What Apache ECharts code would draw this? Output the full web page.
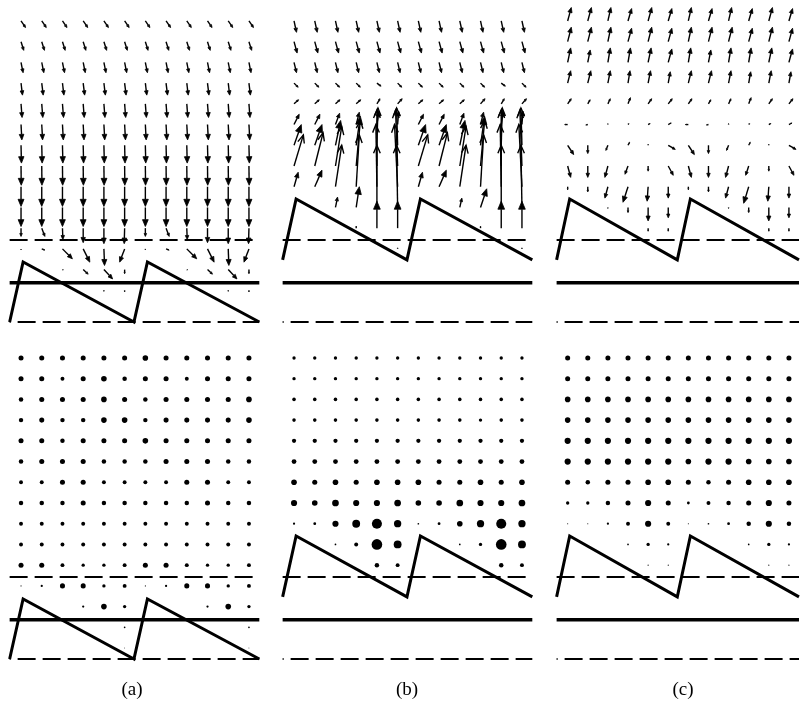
<!DOCTYPE html>
<html><head><meta charset="utf-8">
<script src="https://cdn.jsdelivr.net/npm/echarts@6/dist/echarts.min.js"></script>
<style>html,body{margin:0;padding:0;background:#fff}#c{width:801px;height:704px}</style>
</head><body><div id="c"></div>
<script>
// measurement lattice: columns (x) and rows (y), rows listed top -> bottom
const colX = [0,1,2,3,4,5,6,7,8,9,10,11];
const rowY = [14,13,12,11,10,9,8,7,6,5,4,3,2,1,0];

// bed profile (sawtooth ripples)
const bedX = [-0.55, 0.1, 5.45, 6.1, 11.5];
const bedYa = [-0.53, 2.37, -0.53, 2.37, -0.53];
const bedYbc = [2.47, 5.41, 2.47, 5.41, 2.47];
// reference levels
const levelX = [-0.55, 11.5];
const solidLevel = 1.36;
const dashUpperLevel = 3.43;
const dashLowerLevel = -0.53;
const panelLabels = ['(a)', '(b)', '(c)'];

// ---- velocity vectors (u, v) per lattice point, rows top -> bottom ----
const aU = [
 [0.22,0.22,0.22,0.22,0.22,0.22,0.22,0.22,0.22,0.22,0.22,0.22],
 [0.13,0.13,0.13,0.13,0.13,0.13,0.13,0.13,0.13,0.13,0.13,0.13],
 [0.1,0.1,0.1,0.1,0.1,0.1,0.1,0.1,0.1,0.1,0.1,0.1],
 [0.07,0.07,0.07,0.07,0.07,0.07,0.07,0.07,0.07,0.07,0.07,0.07],
 [0.05,0.05,0.05,0.05,0.05,0.05,0.05,0.05,0.05,0.05,0.05,0.05],
 [0.04,0.04,0.04,0.04,0.04,0.04,0.04,0.04,0.04,0.04,0.04,0.04],
 [0.02,0.02,0.02,0.02,0.02,0.02,0.02,0.02,0.02,0.02,0.02,0.02],
 [0.01,0.01,0.01,0.01,0.01,0.01,0.01,0.01,0.01,0.01,0.01,0.01],
 [0,0,0,0,0,0,0,0,0,0,0,0],
 [0,0,0,0,0,0,0,0,0,0,0,0],
 [0,0.15,0.02,0,0,-0.02,0,0.15,0.02,0,0,-0.02],
 [0,0.15,0.48,0.32,0.03,-0.24,0,0.15,0.48,0.32,0.03,-0.24],
 [0,0,0.04,0.24,0.42,0,0,0,0.04,0.24,0.42,0],
 [0,0,0,0,0,0,0,0,0,0,0,0],
 [0,0,0,0,0,0,0,0,0,0,0,0]
];
const aV = [
 [-0.32,-0.32,-0.32,-0.32,-0.32,-0.32,-0.32,-0.32,-0.32,-0.32,-0.32,-0.32],
 [-0.42,-0.42,-0.42,-0.42,-0.42,-0.42,-0.42,-0.42,-0.42,-0.42,-0.42,-0.42],
 [-0.5,-0.5,-0.5,-0.5,-0.5,-0.5,-0.5,-0.5,-0.5,-0.5,-0.5,-0.5],
 [-0.58,-0.58,-0.58,-0.58,-0.58,-0.58,-0.58,-0.58,-0.58,-0.58,-0.58,-0.58],
 [-0.66,-0.66,-0.66,-0.66,-0.66,-0.66,-0.66,-0.66,-0.66,-0.66,-0.66,-0.66],
 [-0.74,-0.74,-0.74,-0.74,-0.74,-0.74,-0.74,-0.74,-0.74,-0.74,-0.74,-0.74],
 [-0.86,-0.86,-0.86,-0.86,-0.86,-0.86,-0.86,-0.86,-0.86,-0.86,-0.86,-0.86],
 [-0.93,-0.93,-0.93,-0.93,-0.93,-0.93,-0.93,-0.93,-0.93,-0.93,-0.93,-0.93],
 [-0.95,-0.95,-0.95,-0.95,-0.95,-0.95,-0.95,-0.95,-0.95,-0.95,-0.95,-0.95],
 [-0.92,-0.92,-0.92,-0.92,-0.92,-0.92,-0.92,-0.92,-0.92,-0.92,-0.92,-0.92],
 [-0.4,-0.4,-0.55,-0.7,-0.75,-0.75,-0.4,-0.4,-0.55,-0.7,-0.75,-0.75],
 [-0.05,-0.06,-0.48,-0.64,-0.8,-0.64,-0.05,-0.06,-0.48,-0.64,-0.8,-0.64],
 [0,0,-0.02,-0.22,-0.45,-0.2,0,0,-0.02,-0.22,-0.45,-0.2],
 [0,0,0,0,-0.05,-0.08,0,0,0,0,-0.05,-0.08],
 [0,0,0,0,0,0,0,0,0,0,0,0]
];
const bU = [
 [0.12,0.12,0.12,0.12,0.12,0.12,0.12,0.12,0.12,0.12,0.12,0.12],
 [0.15,0.15,0.15,0.15,0.15,0.15,0.15,0.15,0.15,0.15,0.15,0.15],
 [0.12,0.12,0.12,0.12,0.12,0.12,0.12,0.12,0.12,0.12,0.12,0.12],
 [0.2,0.2,0.2,0.2,0.2,0.2,0.2,0.2,0.2,0.2,0.2,0.2],
 [0.22,0.22,0.22,0.22,0.15,0.22,0.22,0.22,0.22,0.22,0.15,0.22],
 [0.25,0.25,0.2,0.15,0.1,0.05,0.25,0.25,0.2,0.15,0.1,0.05],
 [0.35,0.35,0.25,0.2,0.05,-0.05,0.35,0.35,0.25,0.2,0.05,-0.05],
 [0.45,0.4,0.3,0.2,0,-0.1,0.45,0.4,0.3,0.2,0,-0.1],
 [0.2,0.35,0.3,0.15,-0.05,-0.15,0.2,0.35,0.3,0.15,-0.05,-0.15],
 [0,0,0.1,0.15,0,-0.05,0,0,0.1,0.3,0,-0.05],
 [0,0,0,0,0,0,0,0,0,0,0,0],
 [0,0,0,0,0,0,0,0,0,0,0,0],
 [0,0,0,0,0,0,0,0,0,0,0,0],
 [0,0,0,0,0,0,0,0,0,0,0,0],
 [0,0,0,0,0,0,0,0,0,0,0,0]
];
const bV = [
 [-0.55,-0.55,-0.55,-0.55,-0.55,-0.55,-0.55,-0.55,-0.55,-0.55,-0.55,-0.55],
 [-0.55,-0.55,-0.55,-0.55,-0.55,-0.55,-0.55,-0.55,-0.55,-0.55,-0.55,-0.55],
 [-0.5,-0.5,-0.5,-0.5,-0.5,-0.5,-0.5,-0.5,-0.5,-0.5,-0.5,-0.5],
 [-0.2,-0.2,-0.2,-0.2,-0.15,-0.2,-0.2,-0.2,-0.2,-0.2,-0.15,-0.2],
 [0.2,0.2,0.2,0.2,0.25,0.25,0.2,0.2,0.2,0.25,0.25,0.25],
 [0.5,0.5,0.55,0.6,0.65,0.65,0.5,0.5,0.55,0.6,0.65,0.65],
 [1.0,1.0,1.2,1.4,1.8,1.8,1.0,1.0,1.2,1.4,1.8,1.8],
 [1.5,1.6,1.9,2.2,2.7,2.7,1.5,1.6,1.9,2.2,2.7,2.7],
 [0.7,0.8,2.0,2.5,3.0,3.0,0.7,0.8,2.0,2.5,3.0,3.0],
 [0,0,0.5,1.0,3.0,3.0,0,0,0.45,0.9,3.0,3.0],
 [0,0,0,0.1,1.3,1.3,0,0,0,0.1,1.3,1.3],
 [0,0,0,0,0,0.05,0,0,0,0,0,0.05],
 [0,0,0,0,0,0,0,0,0,0,0,0],
 [0,0,0,0,0,0,0,0,0,0,0,0],
 [0,0,0,0,0,0,0,0,0,0,0,0]
];
const cU = [
 [0.18,0.18,0.15,0.18,0.18,0.18,0.15,0.18,0.15,0.18,0.18,0.18],
 [0.18,0.18,0.15,0.18,0.18,0.18,0.15,0.18,0.18,0.18,0.18,0.18],
 [0.15,0.12,0.12,0.12,0.15,0.18,0.12,0.12,0.12,0.12,0.15,0.18],
 [0.15,0.15,0.12,0.1,0.12,0.1,0.15,0.15,0.12,0.1,0.12,0.1],
 [0.18,0.12,0.12,0.12,0.18,0.2,0.18,0.12,0.12,0.12,0.18,0.2],
 [-0.15,-0.1,0,0.05,0.1,0.15,-0.15,-0.1,0,0.05,0.1,0.15],
 [0.3,0,-0.1,0.08,0,0.35,0.3,0,-0.1,0.08,0,0.35],
 [0.15,0,-0.15,-0.15,0,0.25,0.15,0,-0.15,-0.15,0,0.25],
 [0,0,-0.15,-0.25,-0.05,0,0,0,-0.15,-0.25,-0.05,0],
 [0,0,0,0,0,0,0,0,0,0,0,0],
 [0,0,0,0,0,0,0,0,0,0,0,0],
 [0,0,0,0,0,0,0,0,0,0,0,0],
 [0,0,0,0,0,0,0,0,0,0,0,0],
 [0,0,0,0,0,0,0,0,0,0,0,0],
 [0,0,0,0,0,0,0,0,0,0,0,0]
];
const cV = [
 [0.65,0.65,0.65,0.6,0.65,0.6,0.65,0.6,0.65,0.6,0.65,0.6],
 [0.7,0.7,0.7,0.65,0.7,0.65,0.7,0.7,0.7,0.65,0.7,0.65],
 [0.7,0.6,0.7,0.7,0.7,0.65,0.7,0.6,0.7,0.7,0.7,0.65],
 [0.6,0.6,0.6,0.6,0.6,0.55,0.6,0.6,0.6,0.55,0.6,0.55],
 [0.25,0.2,0.25,0.3,0.25,0.25,0.25,0.2,0.25,0.3,0.25,0.25],
 [0,-0.02,0.05,0.05,0.05,0.08,0,-0.02,0.05,0.05,0.05,0.08],
 [-0.45,-0.4,-0.25,0.15,0.05,-0.2,-0.45,-0.4,-0.25,0.15,0.05,-0.2],
 [-0.55,-0.55,-0.55,-0.4,-0.25,-0.45,-0.55,-0.55,-0.55,-0.45,-0.25,-0.45],
 [-0.15,-0.25,-0.55,-0.75,-0.7,-0.55,-0.15,-0.25,-0.55,-0.8,-0.7,-0.55],
 [0,0,-0.05,-0.25,-0.65,-0.5,0,0,-0.05,-0.25,-0.65,-0.5],
 [0,0,0,0,-0.15,-0.15,0,0,0,0,-0.15,-0.15],
 [0,0,0,0,0,0,0,0,0,0,0,0],
 [0,0,0,0,0,0,0,0,0,0,0,0],
 [0,0,0,0,0,0,0,0,0,0,0,0],
 [0,0,0,0,0,0,0,0,0,0,0,0]
];

// ---- scalar magnitude per lattice point (dot panels), rows top -> bottom ----
const aDots = [
 [4.5,4.5,4.5,4.5,4.5,4.5,5,4.5,4.5,4.5,4.5,4.5],
 [4.5,4.5,3.5,4.5,5,4,4.5,4.5,3.5,4.5,4.5,4.5],
 [4,4.5,4.5,4.5,5,4.5,4,4.5,4.5,4.5,4.5,5],
 [4,4.5,4,4,5,5,4,4.5,4.5,4.5,4.5,5],
 [4.5,4.5,4,4.5,4.5,4.5,5,4.5,4.5,4.5,4.5,4.5],
 [4,4.5,4.5,4.5,4,4,4,4.5,4.5,4.5,4,4],
 [3.5,3.5,4.5,4.5,3.5,3.5,3.5,3.5,4.5,4.5,3.5,3.5],
 [4,4,4,4.5,4,4,4,4,4,4.5,4,4],
 [3.5,3.5,3.5,3.5,3.5,3.5,3.5,3.5,3.5,3.5,3.5,3.5],
 [3.5,3.5,3.5,3.5,3.5,3.5,3.5,3.5,3.5,3.5,3.5,3.5],
 [4.5,4.5,3.5,3,3,3.5,4.5,4.5,3.5,3,3,3.5],
 [1,2,4.5,4.5,3,3.5,1,2,4.5,4.5,3,3.5],
 [0,0,0,2,5,3,0,0,0,2,5,3],
 [0,0,0,0,0,1.5,0,0,0,0,0,1.5],
 [0,0,0,0,0,0.8,0,0,0,0,0,0.8]
];
const bDots = [
 [3,3,3,3,3,3,3,3,3,3,3,3],
 [3,3,3,3,3,3,3,3,3,3,3,3],
 [3.2,3.2,3.2,3.2,3.2,3.2,3.2,3.2,3.2,3.2,3.2,3.2],
 [3.2,3.2,3.2,3.2,3.2,3.2,3.2,3.2,3.2,3,3.2,3.2],
 [3.8,3.8,3.8,3.8,3.8,3.8,3.8,3.8,3.8,3.8,3.8,3.8],
 [4.3,4.3,4.3,4.3,4.3,4.3,4.3,4.3,4.3,4.3,4.3,4.3],
 [5,4.5,5,4.5,5,5,5,4.5,4.5,5,4.5,5],
 [5.5,5,6,5.5,5.5,6,5,5,6,5.5,5.5,6],
 [2,2.5,5.5,7,9,6.5,1.5,2.5,5,6.5,9,6.5],
 [0,0,1.5,3.5,9.5,7,0,0,1.5,3,9.5,7],
 [0,0,0,0,4,3.5,0,0,0,0,4,3.5],
 [0,0,0,0,0,0,0,0,0,0,0,0],
 [0,0,0,0,0,0,0,0,0,0,0,0],
 [0,0,0,0,0,0,0,0,0,0,0,0],
 [0,0,0,0,0,0,0,0,0,0,0,0]
];
const cDots = [
 [4.5,4.5,4.5,4.5,4.5,4.5,4.5,4.5,4.5,4.5,4.5,4.5],
 [4.5,4.5,4.5,4.5,4.5,4.5,4.5,4.5,4.5,4.5,4.5,4.5],
 [5,5,5,5,5,5,5,5,5,5,5,5],
 [5,5,5,5,5,5,5,5,5,5,5,5],
 [5.5,5.5,5.5,5.5,5.5,5.5,5.5,5.5,5.5,5.5,5.5,5.5],
 [5.5,5.5,5.5,5.5,5.5,5.5,5,5.5,5.5,5,5,5],
 [4.5,4,4.5,4.5,5,5,4.5,4,4.5,5,5,5],
 [3,3,4,4.5,5.5,4.5,2.5,3.5,4,4.5,5.5,4.5],
 [1,1,2,3.5,5.5,3.5,1,1.5,2.5,4,5.5,4],
 [0,0,0,1.5,3,2,0,0,0,1.5,3,2],
 [0,0,0,0,1,1,0,0,0,0,1,1],
 [0,0,0,0,0,0,0,0,0,0,0,0],
 [0,0,0,0,0,0,0,0,0,0,0,0],
 [0,0,0,0,0,0,0,0,0,0,0,0],
 [0,0,0,0,0,0,0,0,0,0,0,0]
];

// ---------------- build chart ----------------
const chart = echarts.init(document.getElementById('c'), null, {renderer: 'canvas'});
const UNIT = 20.72;
const DOT_SCALE = 1.12;
const xRange = [-0.6, 11.6], yRange = [-1, 14.5];
const gw = (xRange[1]-xRange[0])*UNIT, gh = (yRange[1]-yRange[0])*UNIT;
const lefts = [8.6, 281.6, 555.6], tops = [10.6, 347.6];
const labelX = [132, 407, 683];

const grids = [], xAxes = [], yAxes = [], series = [];
const vecU = [aU, bU, cU], vecV = [aV, bV, cV], dots = [aDots, bDots, cDots];

function renderArrow(params, api) {
  const x = api.value(0), y = api.value(1), u = api.value(2), v = api.value(3);
  const p0 = api.coord([x, y]);
  const p1 = api.coord([x + u, y + v]);
  const dx = p1[0]-p0[0], dy = p1[1]-p0[1];
  const len = Math.hypot(dx, dy);
  if (len < 0.3) return null;
  const ux = dx/len, uy = dy/len;
  const back = Math.min(0.36*len, 8);
  const side = back*0.42;
  const hx = p1[0]-ux*back, hy = p1[1]-uy*back;
  const l = [hx - uy*side, hy + ux*side];
  const r = [hx + uy*side, hy - ux*side];
  const filled = len < 30;
  return {type:'group', children:[
    {type:'line', shape:{x1:p0[0],y1:p0[1],x2:filled ? hx : p1[0],y2:filled ? hy : p1[1]},
      style:{stroke:'#000', lineWidth:1.4}},
    filled
      ? {type:'polygon', shape:{points:[l,p1,r]}, style:{stroke:'#000', fill:'#000', lineWidth:0.8}}
      : {type:'polyline', shape:{points:[l,p1,r]}, style:{stroke:'#000', fill:null, lineWidth:1.4}}
  ]};
}

let idx = 0;
for (let row = 0; row < 2; row++) {
  for (let p = 0; p < 3; p++) {
    grids.push({left: lefts[p], top: tops[row], width: gw, height: gh, containLabel: false});
    xAxes.push({type:'value', gridIndex: idx, min: xRange[0], max: xRange[1], show: false});
    yAxes.push({type:'value', gridIndex: idx, min: yRange[0], max: yRange[1], show: false});
    const ax = {xAxisIndex: idx, yAxisIndex: idx};
    const bedY = p === 0 ? bedYa : bedYbc;
    const base = {type:'line', showSymbol:false, symbol:'none', silent:true, animation:false, ...ax};
    series.push({...base, data: levelX.map(x => [x, dashUpperLevel]),
      lineStyle:{color:'#000', width:2, type:[18,7], dashOffset:0}});
    series.push({...base, data: levelX.map(x => [x, dashLowerLevel]),
      lineStyle:{color:'#000', width:2, type:[18,7], dashOffset:17}});
    series.push({...base, data: levelX.map(x => [x, solidLevel]),
      lineStyle:{color:'#000', width:3.5, cap:'butt'}});
    series.push({...base, data: bedX.map((x, i) => [x, bedY[i]]),
      lineStyle:{color:'#000', width:3, join:'miter'}});
    if (row === 0) {
      const data = [];
      rowY.forEach((y, k) => colX.forEach((x, c) => {
        const u = vecU[p][k][c], v = vecV[p][k][c];
        if (u !== 0 || v !== 0) data.push([x, y, u, v]);
      }));
      series.push({type:'custom', ...ax, renderItem: renderArrow, data, silent:true, animation:false,
        encode:{x:0, y:1}, clip:false});
    } else {
      const data = [];
      rowY.forEach((y, k) => colX.forEach((x, c) => {
        const s = dots[p][k][c];
        if (s > 0) data.push([x, y, s]);
      }));
      series.push({type:'scatter', ...ax, data, symbol:'circle', symbolSize: d => d[2]*DOT_SCALE,
        itemStyle:{color:'#000', opacity:1}, silent:true, animation:false});
    }
    idx++;
  }
}

chart.setOption({
  backgroundColor:'#fff',
  animation:false,
  grid: grids, xAxis: xAxes, yAxis: yAxes, series,
  graphic: panelLabels.map((t, i) => ({type:'text', x: labelX[i], y: 690,
    style:{text:t, font:'19px "Liberation Serif", "DejaVu Serif", serif', fill:'#000', align:'center', verticalAlign:'middle'}}))
});
</script>
</body></html>
